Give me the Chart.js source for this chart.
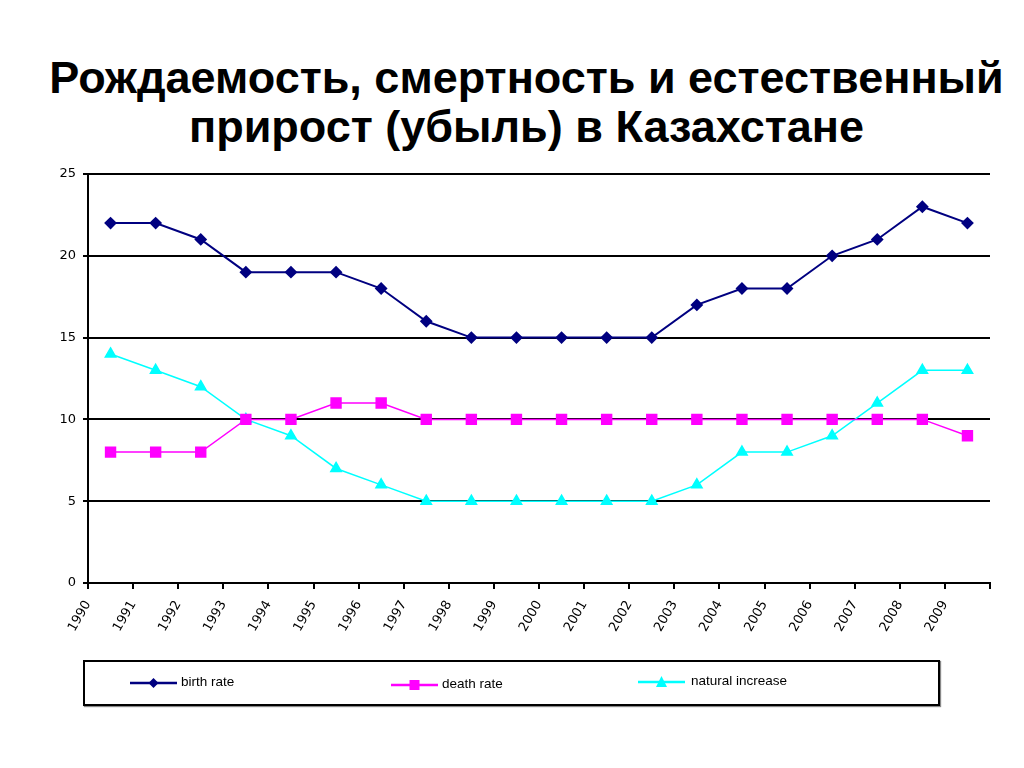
<!DOCTYPE html>
<html>
<head>
<meta charset="utf-8">
<script src="https://cdn.jsdelivr.net/npm/chart.js@4"></script>
<style>
  html, body { margin: 0; padding: 0; background: #fff; }
  body { width: 1024px; height: 768px; position: relative; overflow: hidden; }
  #chart { position: absolute; left: 0; top: 0; }
  .title { position: absolute; left: 0; width: 1053px; text-align: center;
           font-family: "Liberation Sans", Arial, sans-serif; font-weight: bold;
           font-size: 45px; line-height: 50px; color: #000; white-space: nowrap; }
  #legend { position: absolute; left: 83px; top: 660px; width: 853px; height: 42px;
            border: 2px solid #000; box-shadow: 1px 1px 1px #888; }
  .li { position: absolute; font-family: "Liberation Sans", Arial, sans-serif;
        font-size: 13.5px; color: #000; white-space: nowrap; line-height: 16px; }
  .sym { position: absolute; }
</style>
</head>
<body>
<div class="title" style="top:53px">Рождаемость, смертность и естественный</div>
<div class="title" style="top:102px">прирост (убыль) в Казахстане</div>
<canvas id="chart" width="1024" height="768"></canvas>
<div id="legend"></div>
<script>
const years = ['1990','1991','1992','1993','1994','1995','1996','1997','1998','1999',
               '2000','2001','2002','2003','2004','2005','2006','2007','2008','2009'];
const birthRate = [22,22,21,19,19,19,18,16,15,15,15,15,15,17,18,18,20,21,23,22];
const deathRate = [8,8,8,10,10,11,11,10,10,10,10,10,10,10,10,10,10,10,10,9];
const naturalIncrease = [14,13,12,10,9,7,6,5,5,5,5,5,5,6,8,8,9,11,13,13];
const seriesNames = ['birth rate', 'death rate', 'natural increase'];
const yTicks = [0, 5, 10, 15, 20, 25];

const colors = ['#000080', '#FF00FF', '#00FFFF'];

const ctx = document.getElementById('chart').getContext('2d');
new Chart(ctx, {
  type: 'line',
  data: {
    labels: years,
    datasets: [
      { label: seriesNames[0], data: birthRate, borderColor: colors[0], backgroundColor: colors[0],
        borderWidth: 2, pointStyle: 'rectRot', pointRadius: 5, tension: 0 },
      { label: seriesNames[1], data: deathRate, borderColor: colors[1], backgroundColor: colors[1],
        borderWidth: 1.5, pointStyle: 'rect', pointRadius: 7, tension: 0 },
      { label: seriesNames[2], data: naturalIncrease, borderColor: colors[2], backgroundColor: colors[2],
        borderWidth: 1.5, pointStyle: 'triangle', pointRadius: 6, tension: 0 }
    ]
  },
  options: {
    responsive: false,
    animation: false,
    layout: { padding: { left: 40, right: 34, top: 174, bottom: 125 } },
    plugins: { legend: { display: false }, title: { display: false }, tooltip: { enabled: false } },
    scales: {
      x: {
        type: 'category',
        offset: true,
        grid: { offset: true, drawOnChartArea: false, drawTicks: true, tickLength: 6, color: '#000', lineWidth: 2 },
        border: { display: true, color: '#000', width: 2 },
        ticks: { color: '#000', font: { family: 'DejaVu Sans', size: 13 }, minRotation: 60, maxRotation: 60,
                 padding: 9, labelOffset: -22.5, autoSkip: false },
        afterFit: (s) => { s.height = 60; }
      },
      y: {
        min: 0, max: 25,
        afterBuildTicks: (s) => { s.ticks = yTicks.map(v => ({ value: v })); },
        grid: { color: '#000', lineWidth: 2, tickLength: 5 },
        border: { display: true, color: '#000', width: 2 },
        ticks: { color: '#000', font: { family: 'DejaVu Sans', size: 13 }, padding: 7 },
        afterFit: (s) => { s.width = 48; }
      }
    }
  }
});

// Legend (HTML)
const legendItems = [
  { x: 130, y: 683, tx: 181, shape: 'diamond' },
  { x: 391, y: 685, tx: 442, shape: 'square' },
  { x: 638, y: 682, tx: 691, shape: 'triangle' }
];
const legend = document.getElementById('legend');
legendItems.forEach((it, i) => {
  const ox = 83 + 2, oy = 660 + 2;
  const svgNS = 'http://www.w3.org/2000/svg';
  const svg = document.createElementNS(svgNS, 'svg');
  svg.setAttribute('width', 48); svg.setAttribute('height', 14);
  svg.setAttribute('class', 'sym');
  svg.style.left = (it.x - ox) + 'px'; svg.style.top = (it.y - 7 - oy) + 'px';
  const line = document.createElementNS(svgNS, 'line');
  line.setAttribute('x1', 0); line.setAttribute('x2', 47); line.setAttribute('y1', 7); line.setAttribute('y2', 7);
  line.setAttribute('stroke', colors[i]); line.setAttribute('stroke-width', 2.5);
  svg.appendChild(line);
  let m;
  if (it.shape === 'diamond') {
    m = document.createElementNS(svgNS, 'polygon'); m.setAttribute('points', '23.5,2 28.5,7 23.5,12 18.5,7');
  } else if (it.shape === 'square') {
    m = document.createElementNS(svgNS, 'rect'); m.setAttribute('x', 18.5); m.setAttribute('y', 2); m.setAttribute('width', 10); m.setAttribute('height', 10);
  } else {
    m = document.createElementNS(svgNS, 'polygon'); m.setAttribute('points', '23.5,1 29,12 18,12');
  }
  m.setAttribute('fill', colors[i]);
  svg.appendChild(m);
  legend.appendChild(svg);
  const t = document.createElement('div');
  t.className = 'li';
  t.textContent = seriesNames[i];
  t.style.left = (it.tx - ox) + 'px'; t.style.top = (it.y - 9 - oy) + 'px';
  legend.appendChild(t);
});
</script>
</body>
</html>
